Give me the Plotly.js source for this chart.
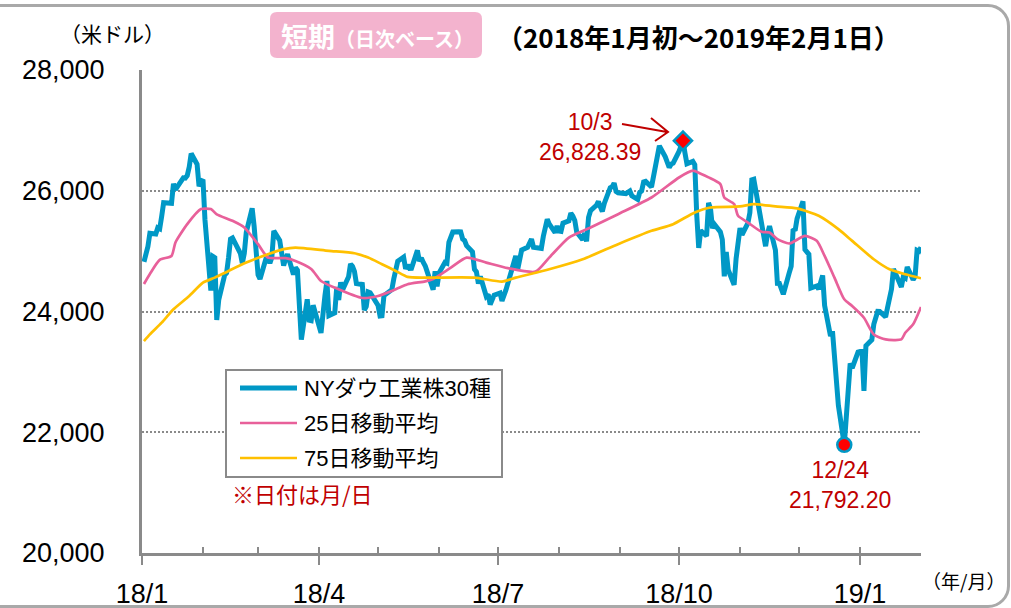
<!DOCTYPE html>
<html>
<head>
<meta charset="utf-8">
<script src="https://cdn.plot.ly/plotly-3.0.1.min.js"></script>
<style>
html,body{margin:0;padding:0;background:#fff;overflow:hidden;}
#wrap{position:relative;width:1011px;height:608px;overflow:hidden;}
#chart{position:absolute;left:0;top:0;width:1011px;height:608px;}
#frame{position:absolute;left:-40px;top:4px;width:1050px;height:604px;box-sizing:border-box;border:3px solid #a9a9a9;border-radius:22px;pointer-events:none;}
</style>
</head>
<body>
<div id="wrap"><div id="chart"></div><div id="frame"></div></div>
<script>
// ---- NY Dow daily closes (Jan 2018 - Feb 1 2019) ----
const djDates = [
'2018-01-02','2018-01-03','2018-01-04','2018-01-05','2018-01-08','2018-01-09','2018-01-10','2018-01-11','2018-01-12','2018-01-16','2018-01-17','2018-01-18','2018-01-19','2018-01-22','2018-01-23','2018-01-24','2018-01-25','2018-01-26','2018-01-29','2018-01-30','2018-01-31',
'2018-02-01','2018-02-02','2018-02-05','2018-02-06','2018-02-07','2018-02-08','2018-02-09','2018-02-12','2018-02-13','2018-02-14','2018-02-15','2018-02-16','2018-02-20','2018-02-21','2018-02-22','2018-02-23','2018-02-26','2018-02-27','2018-02-28',
'2018-03-01','2018-03-02','2018-03-05','2018-03-06','2018-03-07','2018-03-08','2018-03-09','2018-03-12','2018-03-13','2018-03-14','2018-03-15','2018-03-16','2018-03-19','2018-03-20','2018-03-21','2018-03-22','2018-03-23','2018-03-26','2018-03-27','2018-03-28','2018-03-29',
'2018-04-02','2018-04-03','2018-04-04','2018-04-05','2018-04-06','2018-04-09','2018-04-10','2018-04-11','2018-04-12','2018-04-13','2018-04-16','2018-04-17','2018-04-18','2018-04-19','2018-04-20','2018-04-23','2018-04-24','2018-04-25','2018-04-26','2018-04-27','2018-04-30',
'2018-05-01','2018-05-02','2018-05-03','2018-05-04','2018-05-07','2018-05-08','2018-05-09','2018-05-10','2018-05-11','2018-05-14','2018-05-15','2018-05-16','2018-05-17','2018-05-18','2018-05-21','2018-05-22','2018-05-23','2018-05-24','2018-05-25','2018-05-29','2018-05-30','2018-05-31',
'2018-06-01','2018-06-04','2018-06-05','2018-06-06','2018-06-07','2018-06-08','2018-06-11','2018-06-12','2018-06-13','2018-06-14','2018-06-15','2018-06-18','2018-06-19','2018-06-20','2018-06-21','2018-06-22','2018-06-25','2018-06-26','2018-06-27','2018-06-28','2018-06-29',
'2018-07-02','2018-07-03','2018-07-05','2018-07-06','2018-07-09','2018-07-10','2018-07-11','2018-07-12','2018-07-13','2018-07-16','2018-07-17','2018-07-18','2018-07-19','2018-07-20','2018-07-23','2018-07-24','2018-07-25','2018-07-26','2018-07-27','2018-07-30','2018-07-31',
'2018-08-01','2018-08-02','2018-08-03','2018-08-06','2018-08-07','2018-08-08','2018-08-09','2018-08-10','2018-08-13','2018-08-14','2018-08-15','2018-08-16','2018-08-17','2018-08-20','2018-08-21','2018-08-22','2018-08-23','2018-08-24','2018-08-27','2018-08-28','2018-08-29','2018-08-30','2018-08-31',
'2018-09-04','2018-09-05','2018-09-06','2018-09-07','2018-09-10','2018-09-11','2018-09-12','2018-09-13','2018-09-14','2018-09-17','2018-09-18','2018-09-19','2018-09-20','2018-09-21','2018-09-24','2018-09-25','2018-09-26','2018-09-27','2018-09-28',
'2018-10-01','2018-10-02','2018-10-03','2018-10-04','2018-10-05','2018-10-08','2018-10-09','2018-10-10','2018-10-11','2018-10-12','2018-10-15','2018-10-16','2018-10-17','2018-10-18','2018-10-19','2018-10-22','2018-10-23','2018-10-24','2018-10-25','2018-10-26','2018-10-29','2018-10-30','2018-10-31',
'2018-11-01','2018-11-02','2018-11-05','2018-11-06','2018-11-07','2018-11-08','2018-11-09','2018-11-12','2018-11-13','2018-11-14','2018-11-15','2018-11-16','2018-11-19','2018-11-20','2018-11-21','2018-11-23','2018-11-26','2018-11-27','2018-11-28','2018-11-29','2018-11-30',
'2018-12-03','2018-12-04','2018-12-06','2018-12-07','2018-12-10','2018-12-11','2018-12-12','2018-12-13','2018-12-14','2018-12-17','2018-12-18','2018-12-19','2018-12-20','2018-12-21','2018-12-24','2018-12-26','2018-12-27','2018-12-28','2018-12-31',
'2019-01-02','2019-01-03','2019-01-04','2019-01-07','2019-01-08','2019-01-09','2019-01-10','2019-01-11','2019-01-14','2019-01-15','2019-01-16','2019-01-17','2019-01-18','2019-01-22','2019-01-23','2019-01-24','2019-01-25','2019-01-28','2019-01-29','2019-01-30','2019-01-31',
'2019-02-01'
];
const djClose = [
24824,24922,25075,25295,25283,25385,25369,25574,25803,25792,26116,26017,26071,26214,26210,26252,26392,26617,26439,26076,26149,
26186,25521,24346,24913,24893,23861,24191,24602,24640,24893,25201,25219,24965,24798,24963,25310,25710,25411,25029,
24609,24539,24874,24884,24801,24896,25336,25179,25008,24759,24874,24947,24611,24727,24683,23958,23533,24202,23857,23849,24103,
23645,24034,24264,24505,23933,23979,24408,24190,24484,24361,24574,24787,24748,24665,24463,24448,24024,24084,24323,24311,24163,
24100,23925,23930,24263,24357,24361,24543,24740,24831,24900,24707,24769,24714,24715,25013,24835,24887,24812,24753,24362,24668,24416,
24635,24814,24800,25146,25241,25317,25322,25320,25201,25175,25090,24988,24701,24657,24462,24581,24252,24283,24117,24216,24271,
24307,24175,24357,24456,24776,24920,24700,24925,25019,25064,25120,25199,25065,25058,25044,25241,25415,25528,25451,25307,25415,
25333,25327,25463,25502,25629,25583,25509,25313,25188,25300,25162,25559,25669,25759,25822,25733,25656,25790,26050,26065,26125,25987,25965,
25953,25975,25996,25917,25857,25971,25999,26145,26155,26062,26247,26405,26657,26744,26562,26492,26385,26440,26458,
26651,26774,26828,26627,26447,26487,26431,25599,25053,25340,25250,25798,25707,25380,25444,25318,25192,24583,24985,24688,24443,24875,25116,
25380,25271,25462,25636,26181,26191,25989,25387,25286,25081,25289,25414,25018,24466,24464,24286,24640,24749,25366,25339,25538,
25826,25027,24947,24389,24423,24370,24527,24597,24101,23592,23675,23324,22859,22445,21792,22878,23139,23062,23327,
23346,22686,23433,23531,23787,23879,24002,24001,23910,24066,24207,24370,24706,24404,24575,24553,24737,24528,24580,25014,24999,
25064
];

// ---- 25-day moving average ----
const ma25Dates = ['2018-01-02','2018-01-05','2018-01-10','2018-01-16','2018-01-18','2018-01-24','2018-01-31','2018-02-05','2018-02-08','2018-02-16','2018-02-22','2018-03-01','2018-03-06','2018-03-15','2018-03-20','2018-03-28','2018-04-02','2018-04-09','2018-04-23','2018-05-01','2018-05-10','2018-05-16','2018-05-25','2018-05-29','2018-06-07','2018-06-15','2018-06-25','2018-07-06','2018-07-20','2018-07-27','2018-08-06','2018-08-17','2018-08-31','2018-09-17','2018-10-01','2018-10-08','2018-10-12','2018-10-16','2018-10-22','2018-10-24','2018-10-29','2018-10-31','2018-11-05','2018-11-12','2018-11-16','2018-11-20','2018-11-26','2018-12-04','2018-12-10','2018-12-14','2018-12-19','2018-12-24','2018-12-28','2019-01-03','2019-01-08','2019-01-14','2019-01-22','2019-01-24','2019-01-28','2019-02-01'];
const ma25Values = [24456,24622,24855,24920,25142,25447,25696,25696,25610,25502,25392,25115,24894,24884,24838,24705,24506,24395,24224,24257,24368,24451,24500,24539,24727,24893,24810,24718,24660,24893,25224,25391,25612,25888,26220,26332,26282,26221,26110,25889,25780,25585,25474,25320,25308,25198,25126,25253,25170,24921,24561,24202,24091,23897,23620,23538,23538,23648,23787,24075];

// ---- 75-day moving average ----
const ma75Dates = ['2018-01-02','2018-01-05','2018-01-11','2018-01-17','2018-01-25','2018-02-01','2018-02-07','2018-02-14','2018-02-23','2018-03-06','2018-03-14','2018-03-20','2018-04-06','2018-04-19','2018-04-26','2018-05-03','2018-05-10','2018-05-16','2018-05-25','2018-06-19','2018-07-03','2018-07-10','2018-07-27','2018-08-13','2018-08-31','2018-09-17','2018-09-28','2018-10-09','2018-10-17','2018-11-01','2018-11-08','2018-11-19','2018-11-30','2018-12-11','2018-12-21','2018-12-28','2019-01-08','2019-01-16','2019-01-24','2019-02-01'];
const ma75Values = [23510,23621,23815,24037,24257,24478,24561,24672,24810,24949,25032,25059,25004,24965,24893,24783,24672,24573,24561,24561,24495,24561,24699,24865,25115,25336,25447,25640,25723,25740,25779,25740,25707,25585,25364,25170,24865,24699,24617,24550];

// ---- highlighted points ----
const peakDate = '2018-10-03', peakValue = 26828.39, peakLabel = '10/3<br>26,828.39';
const lowDate = '2018-12-24', lowValue = 21792.20, lowLabel = '12/24<br>21,792.20';

// ---- axis ticks / labels ----
const xTickVals = ['2018-01-01','2018-04-01','2018-07-01','2018-10-01','2019-01-01'];
const xTickText = ['18/1','18/4','18/7','18/10','19/1'];
const yTickVals = [20000,22000,24000,26000,28000];
const seriesNames = ['NYダウ工業株30種','25日移動平均','75日移動平均'];
const seriesColors = ['#0098C6','#E8609A','#FFC000'];

// layout geometry helpers (pixel -> paper)
const W = 1011, H = 608, ML = 142, MR = 90, MT = 70, MB = 55;
const PW = W - ML - MR, PH = H - MT - MB;
const px = x => (x - ML) / PW;
const py = y => (H - MB - y) / PH;

const gray = '#8a8a8a';
const darkRed = '#C00000';
const numFont = 'Liberation Sans, Arial, Noto Sans CJK JP, sans-serif';
const jpFont = 'Noto Sans CJK JP, sans-serif';

const traces = [
  {x: djDates, y: djClose, type: 'scatter', mode: 'lines', name: seriesNames[0],
   line: {color: seriesColors[0], width: 5, shape: 'linear'}, showlegend: false, hoverinfo: 'x+y'},
  {x: ma25Dates, y: ma25Values, type: 'scatter', mode: 'lines', name: seriesNames[1],
   line: {color: seriesColors[1], width: 2.7, shape: 'spline', smoothing: 0.6}, showlegend: false},
  {x: ma75Dates, y: ma75Values, type: 'scatter', mode: 'lines', name: seriesNames[2],
   line: {color: seriesColors[2], width: 2.7, shape: 'spline', smoothing: 0.6}, showlegend: false},
  {x: [peakDate], y: [peakValue], type: 'scatter', mode: 'markers', showlegend: false,
   marker: {symbol: 'diamond', size: 14, color: '#FF0000', line: {color: seriesColors[0], width: 2.5}}},
  {x: [lowDate], y: [lowValue], type: 'scatter', mode: 'markers', showlegend: false,
   marker: {symbol: 'circle', size: 14, color: '#FF0000', line: {color: seriesColors[0], width: 2.5}}}
];

// custom legend
const legRows = [388, 423, 458];
const legWidths = [5, 2.7, 2.7];
const P = (x, y) => `${px(x)} ${py(y)}`;
const shapes = [
  // title pill
  {type: 'path', xref: 'paper', yref: 'paper', layer: 'above',
   path: (function(){
     const x0 = px(270), x1 = px(482), y0 = py(58), y1 = py(12), rx = 7 / PW, ry = 7 / PH;
     return `M ${x0+rx} ${y1} L ${x1-rx} ${y1} Q ${x1} ${y1} ${x1} ${y1-ry} L ${x1} ${y0+ry} Q ${x1} ${y0} ${x1-rx} ${y0} L ${x0+rx} ${y0} Q ${x0} ${y0} ${x0} ${y0+ry} L ${x0} ${y1-ry} Q ${x0} ${y1} ${x0+rx} ${y1} Z`;
   })(),
   fillcolor: '#F3B3CE', line: {width: 0}},
  // legend box
  {type: 'rect', xref: 'paper', yref: 'paper', x0: px(226), x1: px(502), y0: py(477), y1: py(370),
   fillcolor: '#ffffff', line: {color: gray, width: 2}},
  // callout arrow toward the peak
  {type: 'path', xref: 'paper', yref: 'paper',
   path: `M ${P(622,124)} L ${P(667,132)} M ${P(651,118)} L ${P(668,132)} L ${P(655,141)}`,
   line: {color: darkRed, width: 2}}
];
legRows.forEach((yy, i) => {
  shapes.push({type: 'line', xref: 'paper', yref: 'paper', x0: px(240), x1: px(297), y0: py(yy), y1: py(yy),
    line: {color: seriesColors[i], width: legWidths[i]}});
});

const annotations = [
  {xref: 'paper', yref: 'paper', x: px(377), y: py(36), xanchor: 'center', yanchor: 'middle', showarrow: false,
   text: '<b>短期</b><span style="font-size:20px"><b>（日次ベース）</b></span>',
   font: {family: jpFont, size: 27, color: '#ffffff'}},
  {xref: 'paper', yref: 'paper', x: px(495), y: py(37), xanchor: 'left', yanchor: 'middle', showarrow: false,
   text: '<b>（2018年1月初～2019年2月1日）</b>', font: {family: jpFont, size: 26, color: '#000000'}},
  {xref: 'paper', yref: 'paper', x: px(58), y: py(33), xanchor: 'left', yanchor: 'middle', showarrow: false,
   text: '（米ドル）', font: {family: jpFont, size: 21, color: '#000000'}},
  {xref: 'paper', yref: 'paper', x: px(1007), y: py(580), xanchor: 'right', yanchor: 'middle', showarrow: false,
   text: '（年/月）', font: {family: jpFont, size: 19, color: '#000000'}},
  {xref: 'paper', yref: 'paper', x: px(230), y: py(493), xanchor: 'left', yanchor: 'middle', showarrow: false,
   text: '※日付は月/日', font: {family: jpFont, size: 22, color: darkRed}},
  // peak label
  {xref: 'x', yref: 'y', x: peakDate, y: peakValue, xshift: -93, yshift: 4, showarrow: false,
   xanchor: 'center', yanchor: 'middle', text: peakLabel, font: {family: numFont, size: 23, color: darkRed}},
  // low label
  {xref: 'x', yref: 'y', x: lowDate, y: lowValue, xshift: -4, yshift: -40, showarrow: false,
   xanchor: 'center', yanchor: 'middle', text: lowLabel, font: {family: numFont, size: 23, color: darkRed}}
];
legRows.forEach((yy, i) => {
  annotations.push({xref: 'paper', yref: 'paper', x: px(302), y: py(yy), xanchor: 'left', yanchor: 'middle',
    showarrow: false, text: seriesNames[i], font: {family: numFont, size: 22, color: '#000000'}});
});

const layout = {
  width: W, height: H,
  margin: {l: ML, r: MR, t: MT, b: MB, pad: 0},
  paper_bgcolor: '#ffffff', plot_bgcolor: '#ffffff',
  font: {family: numFont, color: '#000000'},
  separators: '.,',
  showlegend: false,
  xaxis: {
    type: 'date', range: ['2018-01-01', '2019-02-01'],
    tickmode: 'array', tickvals: xTickVals, ticktext: xTickText,
    ticks: 'outside', ticklen: 9, tickwidth: 2, tickcolor: gray,
    showline: true, linecolor: gray, linewidth: 3,
    showgrid: false, zeroline: false, fixedrange: true,
    tickfont: {family: numFont, size: 27, color: '#000000'},
    ticklabelstandoff: 6
  },
  xaxis2: {
    type: 'date', range: ['2018-01-01', '2019-02-01'], overlaying: 'x', anchor: 'y', side: 'bottom',
    tickmode: 'linear', tick0: '2018-01-01', dtick: 'M1',
    ticks: 'inside', ticklen: 6, tickwidth: 2, tickcolor: gray,
    showticklabels: false, showline: false, showgrid: false, zeroline: false
  },
  yaxis: {
    range: [20000, 28000], tickmode: 'array', tickvals: yTickVals, tickformat: ',d',
    ticks: '', showline: true, linecolor: gray, linewidth: 3,
    showgrid: true, gridcolor: gray, gridwidth: 2, griddash: '2px,2px', zeroline: false,
    tickfont: {family: numFont, size: 27, color: '#000000'},
    ticklabelstandoff: 29, fixedrange: true
  },
  shapes: shapes,
  annotations: annotations
};

// xaxis2 (monthly inside ticks) gets an invisible trace so it is drawn
traces.push({x: [xTickVals[0]], y: [yTickVals[0]], xaxis: 'x2', yaxis: 'y', type: 'scatter', mode: 'markers',
  marker: {opacity: 0, size: 1}, showlegend: false, hoverinfo: 'skip'});

Plotly.newPlot('chart', traces, layout, {displayModeBar: false, staticPlot: true});
</script>
</body>
</html>
